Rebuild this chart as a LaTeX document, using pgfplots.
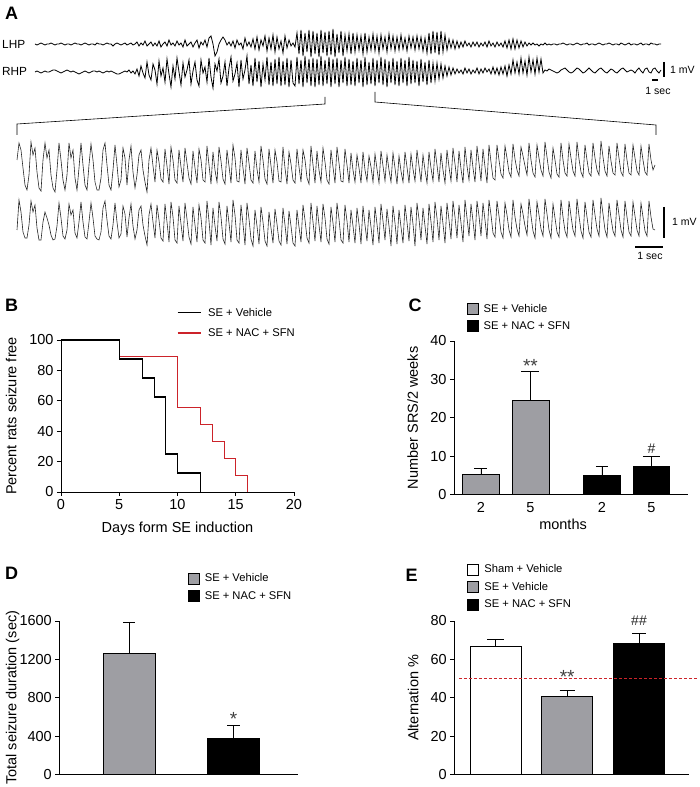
\documentclass[border=0pt]{standalone}
\usepackage{fontspec}
\setmainfont{Liberation Sans}
\usepackage{pgfplots}
\pgfplotsset{compat=1.18}
\definecolor{sered}{RGB}{204,35,42}
\definecolor{bargray}{RGB}{158,158,163}
\newcommand{\fs}[1]{\fontsize{#1}{#1}\selectfont}
\pgfplotsset{
  panel/.style={scale only axis, clip=false, axis lines=left,
    axis line style={-, line width=0.9pt},
    every outer x axis line/.append style={-}, every outer y axis line/.append style={-},
    tick style={black, line width=0.9pt}, major tick length=4pt, tick align=outside,
    ticklabel style={font=\fs{14.5}}, every axis label/.append style={font=\fs{14.5}},
    /pgf/number format/assume math mode=true, /pgf/number format/1000 sep={}},
  sqleg/.style={legend image code/.code={\draw[##1, draw=black, line width=0.6pt] (0pt,-5.5pt) rectangle (11pt,5.5pt);}},
  linleg/.style={legend image code/.code={\draw[##1] (0pt,0pt) -- (23pt,0pt);}},
  legbase/.style={legend cell align=left, legend style={draw=none, fill=none, inner sep=0pt, outer sep=0pt, font=\fs{11.2}, nodes={inner sep=0pt}}},
  eb/.style={error bars/y dir=plus, error bars/y explicit,
    error bars/error bar style={line width=0.8pt, black},
    error bars/error mark options={rotate=90, mark size=#1, line width=0.8pt, black}},
}
\begin{document}
\begin{tikzpicture}
\useasboundingbox (0pt,0pt) rectangle (700pt,787pt);
% ---------------- Panel A ----------------
\begin{axis}[at={(0pt,507pt)}, anchor=south west, scale only axis, width=700pt, height=280pt,
  xmin=0, xmax=700, ymin=0, ymax=280, y dir=reverse, hide axis, clip=false]
% LHP overview
\addplot[black, line width=0.8pt] table[row sep=\\, header=false, x expr=35+2*\coordindex, y index=0] {
44\\45\\44\\43\\44\\45\\44\\44\\43\\44\\
45\\44\\44\\43\\44\\45\\44\\44\\45\\44\\
43\\44\\44\\45\\44\\43\\44\\45\\44\\44\\
45\\43\\44\\44\\45\\44\\43\\44\\44\\46\\
44\\43\\44\\45\\44\\43\\45\\44\\43\\45\\
44\\42\\46\\43\\45\\41\\46\\44\\42\\46\\
43\\46\\41\\47\\44\\42\\46\\40\\45\\43\\
46\\41\\45\\43\\47\\40\\46\\44\\42\\47\\
43\\40\\48\\42\\45\\40\\47\\38\\36\\44\\
56\\52\\44\\40\\37\\40\\45\\42\\46\\41\\
48\\40\\45\\43\\49\\38\\46\\42\\47\\39\\
49\\37\\50\\40\\46\\36\\51\\38\\49\\35\\
52\\37\\49\\41\\53\\36\\48\\40\\46\\43\\
47\\33\\54\\30\\56\\33\\52\\30\\57\\31\\
54\\33\\57\\30\\53\\32\\56\\31\\55\\29\\
57\\34\\53\\31\\56\\35\\51\\34\\54\\33\\
52\\35\\50\\36\\54\\33\\52\\37\\50\\34\\
51\\36\\53\\35\\49\\37\\52\\34\\49\\36\\
51\\37\\50\\35\\49\\38\\51\\36\\48\\37\\
50\\36\\49\\37\\51\\38\\53\\33\\54\\31\\
53\\32\\55\\31\\52\\35\\50\\39\\48\\40\\
49\\41\\48\\42\\47\\41\\46\\43\\47\\42\\
46\\42\\47\\43\\46\\42\\47\\41\\46\\43\\
47\\42\\46\\43\\47\\41\\48\\40\\49\\39\\
49\\40\\48\\41\\47\\42\\46\\43\\45\\43\\
45\\44\\46\\44\\45\\43\\45\\44\\45\\44\\
44\\45\\44\\44\\43\\44\\45\\44\\44\\45\\
44\\43\\44\\45\\44\\44\\43\\45\\44\\44\\
45\\44\\43\\44\\45\\44\\44\\43\\44\\45\\
44\\44\\45\\43\\44\\45\\44\\43\\45\\44\\
44\\45\\44\\43\\45\\44\\44\\45\\43\\44\\
44\\45\\44\\44\\
};
% RHP overview
\addplot[black, line width=0.8pt] table[row sep=\\, header=false, x expr=35+2*\coordindex, y index=0] {
72\\71\\72\\73\\72\\71\\72\\72\\71\\70\\
70\\71\\72\\73\\72\\71\\70\\71\\72\\71\\
72\\73\\74\\73\\72\\71\\72\\73\\72\\71\\
71\\72\\71\\72\\73\\72\\71\\72\\71\\72\\
73\\74\\74\\73\\72\\71\\72\\70\\73\\71\\
74\\69\\76\\66\\73\\78\\62\\75\\80\\64\\
70\\84\\61\\76\\68\\82\\59\\74\\87\\66\\
79\\58\\72\\85\\63\\77\\70\\60\\84\\71\\
62\\80\\86\\60\\73\\67\\82\\58\\77\\88\\
64\\71\\59\\83\\76\\62\\86\\68\\57\\81\\
74\\63\\87\\60\\79\\70\\56\\84\\65\\86\\
58\\82\\61\\87\\64\\80\\57\\85\\62\\86\\
59\\84\\57\\86\\61\\85\\58\\87\\60\\83\\
86\\57\\84\\60\\87\\56\\83\\59\\86\\58\\
87\\59\\85\\56\\86\\60\\84\\57\\87\\59\\
84\\58\\87\\60\\83\\57\\86\\59\\85\\61\\
86\\58\\83\\60\\87\\57\\85\\62\\84\\58\\
86\\60\\83\\57\\85\\59\\87\\61\\83\\58\\
85\\61\\86\\58\\83\\60\\86\\57\\84\\60\\
83\\61\\86\\59\\82\\62\\85\\60\\83\\63\\
81\\63\\79\\64\\78\\66\\76\\67\\75\\68\\
74\\69\\73\\70\\74\\68\\73\\69\\74\\70\\
73\\68\\74\\69\\73\\68\\72\\69\\74\\67\\
74\\68\\75\\67\\74\\66\\76\\65\\74\\60\\
73\\62\\74\\58\\73\\61\\75\\57\\72\\60\\
74\\58\\72\\59\\73\\70\\71\\69\\70\\71\\
72\\73\\72\\70\\69\\68\\70\\72\\73\\72\\
70\\68\\69\\71\\73\\72\\70\\68\\70\\72\\
73\\71\\69\\68\\70\\72\\73\\71\\69\\70\\
72\\73\\71\\69\\68\\70\\72\\71\\70\\71\\
73\\70\\68\\71\\73\\69\\68\\72\\73\\69\\
68\\71\\73\\70\\
};
% expanded trace 1
\addplot[black!85, line width=0.6pt] table[row sep=\\, header=false, x expr=17+2*\coordindex, y index=0] {
160\\143\\150\\168\\185\\190\\175\\142\\155\\148\\
172\\188\\191\\160\\143\\158\\150\\175\\188\\192\\
170\\143\\160\\180\\190\\175\\143\\158\\150\\178\\
190\\168\\143\\165\\185\\190\\165\\144\\160\\182\\
190\\190\\178\\150\\143\\165\\185\\190\\170\\145\\
165\\187\\180\\148\\158\\185\\160\\146\\172\\188\\
175\\155\\150\\170\\182\\192\\160\\148\\166\\182\\
150\\162\\179\\182\\149\\166\\184\\147\\160\\180\\
183\\150\\167\\182\\148\\163\\178\\184\\151\\168\\
183\\149\\160\\180\\182\\146\\165\\184\\152\\170\\
182\\147\\161\\179\\184\\150\\166\\183\\145\\158\\
181\\182\\150\\168\\184\\148\\163\\180\\183\\151\\
169\\182\\146\\160\\179\\184\\149\\166\\183\\150\\
162\\181\\182\\147\\168\\184\\152\\164\\180\\183\\
149\\167\\182\\150\\160\\178\\184\\146\\165\\183\\
151\\170\\182\\148\\162\\180\\184\\150\\167\\183\\
147\\163\\181\\182\\149\\165\\183\\153\\170\\182\\
155\\168\\183\\152\\170\\181\\156\\167\\182\\154\\
169\\183\\151\\166\\181\\155\\170\\182\\153\\168\\
184\\156\\171\\182\\152\\167\\183\\154\\169\\181\\
150\\166\\182\\155\\170\\183\\152\\168\\181\\149\\
165\\182\\153\\170\\183\\150\\167\\181\\148\\164\\
182\\151\\169\\183\\147\\166\\180\\150\\168\\182\\
146\\163\\181\\149\\167\\183\\145\\162\\178\\180\\
145\\160\\174\\178\\146\\158\\172\\177\\144\\159\\
170\\176\\147\\156\\166\\175\\143\\160\\173\\177\\
145\\158\\170\\176\\142\\157\\172\\178\\148\\160\\
174\\177\\143\\160\\173\\176\\144\\158\\171\\176\\
142\\159\\172\\177\\145\\160\\173\\176\\143\\158\\
170\\175\\141\\157\\171\\176\\146\\161\\173\\175\\
143\\158\\172\\176\\144\\160\\173\\175\\145\\158\\
171\\175\\146\\160\\172\\175\\144\\160\\170\\165\\
};
% expanded trace 2
\addplot[black!85, line width=0.6pt] table[row sep=\\, header=false, x expr=17+2*\coordindex, y index=0] {
230\\200\\212\\232\\238\\238\\225\\201\\212\\205\\
228\\240\\240\\222\\212\\218\\225\\235\\240\\239\\
226\\203\\218\\236\\239\\230\\204\\215\\210\\233\\
238\\222\\202\\222\\237\\239\\222\\203\\218\\236\\
239\\240\\232\\208\\201\\220\\236\\239\\225\\203\\
222\\238\\234\\206\\214\\237\\218\\204\\226\\239\\
230\\210\\206\\225\\236\\245\\215\\204\\222\\238\\
205\\220\\238\\241\\204\\222\\242\\202\\217\\240\\
243\\206\\224\\241\\203\\219\\237\\244\\207\\225\\
242\\205\\218\\240\\243\\201\\221\\245\\208\\226\\
241\\202\\217\\239\\244\\206\\223\\242\\200\\215\\
240\\243\\205\\224\\245\\203\\219\\239\\246\\210\\
226\\244\\207\\222\\241\\246\\212\\228\\243\\209\\
224\\241\\245\\208\\225\\244\\211\\226\\243\\246\\
210\\227\\242\\205\\220\\238\\243\\203\\222\\241\\
206\\225\\242\\204\\218\\239\\244\\207\\223\\242\\
203\\219\\240\\243\\205\\221\\242\\210\\226\\243\\
208\\224\\244\\206\\225\\241\\210\\227\\245\\207\\
224\\243\\204\\221\\240\\209\\226\\246\\206\\223\\
244\\210\\227\\243\\205\\222\\241\\207\\224\\246\\
203\\219\\240\\208\\226\\244\\204\\222\\242\\202\\
218\\240\\206\\224\\243\\203\\220\\239\\201\\217\\
238\\205\\223\\242\\200\\218\\236\\204\\221\\240\\
201\\216\\236\\203\\220\\239\\200\\215\\233\\237\\
201\\216\\232\\238\\203\\215\\230\\237\\200\\217\\
229\\236\\204\\214\\226\\235\\199\\216\\231\\238\\
202\\215\\229\\236\\199\\214\\230\\238\\204\\218\\
232\\237\\200\\217\\231\\237\\201\\216\\230\\236\\
199\\216\\231\\238\\202\\217\\232\\237\\200\\215\\
229\\236\\198\\214\\230\\237\\203\\218\\231\\236\\
200\\215\\230\\237\\201\\217\\232\\236\\202\\216\\
230\\236\\203\\217\\231\\236\\201\\217\\229\\230\\
};
% brackets
\addplot[black, line width=0.6pt] coordinates {(325,97) (325,104) (17,124) (17,135)};
\addplot[black, line width=0.6pt] coordinates {(375,92) (375,102) (656,125) (656,135)};
% scale bars
\addplot[black, line width=1.4pt] coordinates {(664,62) (664,77)};
\addplot[black, line width=1.4pt] coordinates {(652,80) (658,80)};
\addplot[black, line width=1.4pt] coordinates {(664,207) (664,238)};
\addplot[black, line width=1.4pt] coordinates {(635,247) (663,247)};
\node[font=\fs{11.8}, anchor=west, inner sep=0pt] at (axis cs:2,44) {LHP};
\node[font=\fs{11.8}, anchor=west, inner sep=0pt] at (axis cs:2,71) {RHP};
\node[font=\fs{10.5}, anchor=west, inner sep=0pt] at (axis cs:670,70) {1 mV};
\node[font=\fs{10.5}, inner sep=0pt] at (axis cs:658,91) {1 sec};
\node[font=\fs{10.5}, anchor=west, inner sep=0pt] at (axis cs:672,222) {1 mV};
\node[font=\fs{10.5}, inner sep=0pt] at (axis cs:650,256) {1 sec};
\end{axis}
% ---------------- Panel B ----------------
\begin{axis}[panel, legbase, at={(61pt,295pt)}, anchor=south west, width=233pt, height=152pt,
  xmin=0, xmax=20, ymin=0, ymax=100, xtick={0,5,10,15,20}, ytick={0,20,40,60,80,100},
  xlabel={Days form SE induction}, ylabel={Percent rats seizure free},
  every axis x label/.style={at={(axis description cs:0.5,-0.24)}, anchor=center},
  every axis y label/.style={at={(axis description cs:-0.214,0.5)}, anchor=center, rotate=90},
  legend style={at={(axis cs:9.957,121.1)}, anchor=north west, row sep=10.8pt,
    /tikz/every odd column/.append style={column sep=7pt}}]
\addplot[black, line width=1.2pt, const plot, linleg] coordinates {(0,100) (5,87.5) (7,75) (8,62.5) (9,25) (10,12.5) (12,0)};
\addlegendentry{SE + Vehicle}
\addplot[sered, line width=1.2pt, const plot, linleg] coordinates {(0,100) (5,88.9) (10,55.6) (12,44.4) (13,33.3) (14,22.2) (15,11.1) (16,0)};
\addlegendentry{SE + NAC + SFN}
\addplot[black, line width=1.2pt, const plot, forget plot] coordinates {(0,100) (5,87.5) (7,75) (8,62.5) (9,25) (10,12.5) (12,0)};
\end{axis}
% ---------------- Panel C ----------------
\begin{axis}[panel, legbase, at={(454pt,292.3pt)}, anchor=south west, width=234pt, height=153.7pt,
  xmin=0, xmax=4.73, ymin=0, ymax=40, ytick={0,10,20,30,40},
  xtick={0.545,1.545,2.99,3.99}, xticklabels={2,5,2,5}, xtick style={draw=none},
  ybar, xlabel={months}, ylabel={Number SRS/2 weeks},
  every axis x label/.style={at={(axis description cs:0.466,-0.19)}, anchor=center},
  every axis y label/.style={at={(axis description cs:-0.177,0.5)}, anchor=center, rotate=90},
  legend style={at={(axis cs:0.263,49.76)}, anchor=north west, row sep=5pt,
    /tikz/every odd column/.append style={column sep=5pt}}]
\addplot[fill=bargray, draw=black, line width=0.8pt, bar width=0.747, bar shift=0pt, sqleg, eb=6.5pt] coordinates {(0.545,5.3) +- (0,1.5)};
\addlegendentry{SE + Vehicle}
\addplot[fill=black, draw=black, line width=0.8pt, bar width=0.747, bar shift=0pt, sqleg, eb=6pt] coordinates {(2.99,5.0) +- (0,2.4)};
\addlegendentry{SE + NAC + SFN}
\addplot[fill=bargray, draw=black, line width=0.8pt, bar width=0.747, bar shift=0pt, eb=9pt, forget plot] coordinates {(1.545,24.5) +- (0,7.5)};
\addplot[fill=black, draw=black, line width=0.8pt, bar width=0.747, bar shift=0pt, eb=8.5pt, forget plot] coordinates {(3.99,7.4) +- (0,2.6)};
\node[font=\fs{19}, text=black!75, anchor=base, inner sep=0pt] at (axis cs:1.545,31.8) {**};
\node[font=\fs{14}, text=black!85, anchor=base, inner sep=0pt] at (axis cs:3.99,10.85) {\#};
\end{axis}
% ---------------- Panel D ----------------
\begin{axis}[panel, legbase, at={(59.3pt,12.3pt)}, anchor=south west, width=238.7pt, height=153.7pt,
  xmin=0, xmax=10, ymin=0, ymax=1600, ytick={0,400,800,1200,1600}, xtick=\empty,
  ybar, ylabel={Total seizure duration (sec)},
  every axis y label/.style={at={(axis description cs:-0.196,0.5)}, anchor=center, rotate=90},
  legend style={at={(axis cs:5.40,2101.7)}, anchor=north west, row sep=5.7pt,
    /tikz/every odd column/.append style={column sep=5pt}}]
\addplot[fill=bargray, draw=black, line width=0.8pt, bar width=2.18, bar shift=0pt, sqleg, eb=6pt] coordinates {(2.92,1260) +- (0,330)};
\addlegendentry{SE + Vehicle}
\addplot[fill=black, draw=black, line width=0.8pt, bar width=2.18, bar shift=0pt, sqleg, eb=6.5pt] coordinates {(7.30,378) +- (0,132)};
\addlegendentry{SE + NAC + SFN}
\node[font=\fs{19}, text=black!75, anchor=base, inner sep=0pt] at (axis cs:7.30,515) {*};
\end{axis}
% ---------------- Panel E ----------------
\begin{axis}[panel, legbase, at={(454.3pt,12.3pt)}, anchor=south west, width=234.7pt, height=153.7pt,
  xmin=0, xmax=10, ymin=0, ymax=80, ytick={0,20,40,60,80}, xtick=\empty,
  ybar, ylabel={Alternation \%},
  every axis y label/.style={at={(axis description cs:-0.175,0.5)}, anchor=center, rotate=90},
  legend style={at={(axis cs:0.53,109.9)}, anchor=north west, row sep=6pt,
    /tikz/every odd column/.append style={column sep=6pt}}]
\addplot[fill=white, draw=black, line width=0.8pt, bar width=2.19, bar shift=0pt, sqleg, eb=8.5pt] coordinates {(1.77,67) +- (0,3.5)};
\addlegendentry{Sham + Vehicle}
\addplot[fill=bargray, draw=black, line width=0.8pt, bar width=2.19, bar shift=0pt, sqleg, eb=7.5pt] coordinates {(4.81,40.5) +- (0,3.5)};
\addlegendentry{SE + Vehicle}
\addplot[fill=black, draw=black, line width=0.8pt, bar width=2.19, bar shift=0pt, sqleg, eb=7pt] coordinates {(7.87,68.5) +- (0,5)};
\addlegendentry{SE + NAC + SFN}
\addplot[sered, line width=1.1pt, dash pattern=on 3pt off 2pt, forget plot, sharp plot] coordinates {(0.2,50) (10.34,50)};
\node[font=\fs{19}, text=black!75, anchor=base, inner sep=0pt] at (axis cs:4.81,47.6) {**};
\node[font=\fs{14}, text=black!85, anchor=base, inner sep=0pt] at (axis cs:7.87,77.9) {\#\#};
\end{axis}
% panel letters
\node[font=\bfseries\fs{18}, inner sep=0pt] at (11.5pt,773.5pt) {A};
\node[font=\bfseries\fs{18}, inner sep=0pt] at (11.7pt,482pt) {B};
\node[font=\bfseries\fs{18}, inner sep=0pt] at (415pt,482pt) {C};
\node[font=\bfseries\fs{18}, inner sep=0pt] at (11.5pt,213.5pt) {D};
\node[font=\bfseries\fs{18}, inner sep=0pt] at (411.5pt,212pt) {E};
\end{tikzpicture}
\end{document}
